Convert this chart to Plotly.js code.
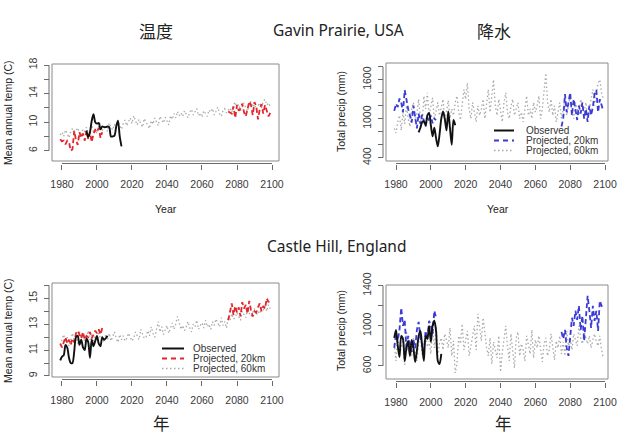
<!DOCTYPE html>
<html><head><meta charset="utf-8">
<script src="https://cdn.plot.ly/plotly-3.0.1.min.js"></script>
<style>html,body{margin:0;padding:0;background:#fff}#chart{width:617px;height:435px}</style>
</head><body><div id="chart"></div>
<script>
// ---------------- DATA ----------------
// Gavin Prairie, USA - temperature (C)
const gpTempObsStart = 1994;
const gpTempObs = [8.8,7.9,8.6,10.2,11.1,10.0,9.8,9.9,9.0,9.4,9.3,9.3,9.4,9.3,8.0,8.0,8.1,9.4,10.2,8.0,6.6];
const gpTemp20EarlyStart = 1979;
const gpTemp20Early = [7.6,7.3,7.4,6.9,7.4,7.2,6.0,6.2,8.8,7.5,6.8,8.6,7.8,8.4,7.4,8.8,7.6,8.6,7.2,8.4,8.9,8.6,9.2,7.8,8.6];
const gpTemp20LateStart = 2075;
const gpTemp20Late = [11.5,11.4,11.2,12.2,10.6,12.4,11.6,11.9,12.6,11.4,10.8,11.8,12.9,12.4,11.0,12.8,12.2,10.4,11.8,12.5,11.2,12.4,11.6,10.8,11.3];
const gpTemp60Start = 1979;
const gpTemp60 = [8.2,8.6,8.0,8.9,8.4,7.8,8.7,9.1,8.3,8.8,
  9.2,8.5,8.1,9.0,8.7,9.3,8.2,8.9,9.5,8.6,
  9.0,8.4,9.4,9.8,8.8,9.2,9.6,8.7,9.9,9.3,
  8.9,9.7,9.1,10.0,9.4,9.0,9.8,10.3,9.5,10.1,
  10.6,9.8,10.9,10.2,9.6,10.4,9.9,9.3,10.5,10.0,
  9.4,9.1,10.2,9.7,10.6,10.1,9.5,10.8,10.3,9.9,
  10.7,10.2,9.6,10.9,10.4,11.2,10.6,11.5,10.9,11.3,
  10.8,11.6,11.1,10.6,11.4,11.8,11.0,11.5,11.9,10.9,
  11.3,10.7,11.6,11.2,10.8,11.7,11.4,11.9,11.0,11.5,
  12.1,11.2,10.8,11.6,11.9,11.3,11.7,12.0,11.4,12.4,
  12.8,11.9,12.5,11.6,12.2,12.7,12.0,11.5,12.6,12.9,
  12.1,12.5,11.8,12.3,12.7,12.0,12.9,13.2,12.4,12.7,
  12.2];

// Gavin Prairie, USA - precipitation (mm)
const gpPrecObsStart = 1993;
const gpPrecObs = [790,860,950,960,900,1050,1090,900,730,860,700,575,760,1000,1110,1000,820,1110,850,600,980,900];
const gpPrec20EarlyStart = 1979;
const gpPrec20Early = [1120,1230,1180,1310,1250,1100,1440,1280,1150,1050,940,1200,1000,850,1080,920,1060,980,880,1020,960,1050,930,1000,980];
const gpPrec20LateStart = 2075;
const gpPrec20Late = [880,1000,1380,1100,1250,1400,1050,1300,1150,980,1200,1080,1250,1000,1150,950,1200,1050,1180,1380,1440,1100,1300,1200,1120];
const gpPrec60Start = 1979;
const gpPrec60 = [850,780,950,1050,820,1100,920,1200,1000,880,
  1150,1250,970,1080,1300,1020,900,1350,1150,1400,
  1050,1200,1320,980,1150,1250,1050,1180,1300,950,
  1100,1280,1000,1150,1050,1250,1350,1100,980,1200,
  1450,1300,1550,1150,1000,1250,1100,950,1200,1050,
  1150,1300,1000,1250,1450,1100,1350,1600,1200,1050,
  1300,1150,950,1250,1400,1100,1000,1200,1300,1050,
  1150,1250,1000,1100,950,1200,1350,1050,1150,1000,
  1250,1100,1200,1350,1000,1150,1450,1700,1250,1100,
  1300,1050,1200,950,1100,1250,1000,1150,1300,1050,
  1200,1350,1100,1000,1250,1150,1050,1300,1200,1100,
  1250,1000,1150,1300,1450,1200,1350,1550,1600,1400,
  1300];

// Castle Hill, England - temperature (C)
const chTempObsStart = 1979;
const chTempObs = [10.2,10.5,10.6,11.4,11.2,10.4,10.0,10.0,10.9,12.0,12.1,11.4,11.8,11.2,11.0,11.9,11.6,10.4,11.8,11.3,11.7,12.1,11.5,11.3,12.0,11.8,11.9,12.1];
const chTemp20EarlyStart = 1979;
const chTemp20Early = [11.5,11.2,11.6,12.0,11.5,11.8,11.4,11.9,11.6,12.3,12.5,12.2,11.9,12.4,11.8,12.1,12.0,12.4,11.9,12.2,12.5,12.3,12.6,12.2,12.7];
const chTemp20LateStart = 2075;
const chTemp20Late = [13.3,14.0,14.6,13.7,14.4,13.9,14.3,13.6,14.7,14.2,14.5,13.8,14.8,14.1,13.6,14.0,13.9,14.3,14.6,14.0,14.4,14.2,15.0,14.7,14.9];
const chTemp60Start = 1979;
const chTemp60 = [11.4,11.8,12.2,11.6,12.0,11.3,11.9,12.3,11.7,12.1,
  11.5,12.4,11.9,12.2,11.6,12.0,12.5,11.8,12.2,11.7,
  12.1,11.8,12.3,11.9,12.0,11.6,12.2,11.8,12.3,11.7,
  12.0,12.4,11.9,11.6,12.2,11.8,12.1,11.7,11.9,12.3,
  12.0,11.7,11.9,12.4,12.1,11.8,12.6,12.2,11.9,12.0,
  12.5,12.1,12.8,12.3,12.0,12.6,13.2,12.4,12.8,12.2,
  12.5,12.9,12.3,12.7,13.1,12.6,13.0,13.6,13.0,12.6,
  12.9,12.5,12.8,13.2,12.7,12.4,13.0,12.8,13.3,12.6,
  12.9,13.1,12.7,13.3,12.8,13.0,12.6,13.2,12.9,13.4,
  13.1,12.8,13.5,12.9,13.2,12.7,13.6,13.3,13.8,13.4,
  13.5,13.9,13.6,13.3,14.0,13.7,13.5,14.1,13.8,13.6,
  13.9,14.2,13.7,14.0,13.8,14.3,14.1,14.4,14.0,14.5,
  14.2];

// Castle Hill, England - precipitation (mm)
const chPrecObsStart = 1979;
const chPrecObs = [880,960,800,690,900,870,650,780,850,700,860,780,640,750,900,950,800,650,900,870,1000,840,1000,1050,950,650,620,720];
const chPrec20EarlyStart = 1979;
const chPrec20Early = [780,920,850,960,1180,1000,1060,760,900,820,740,860,780,960,1040,880,800,740,950,860,1050,1000,920,1150,1080];
const chPrec20LateStart = 2075;
const chPrec20Late = [940,870,960,780,700,930,1080,1000,1150,1060,1200,960,1100,850,1050,1300,1150,980,1200,1050,1150,950,1250,1200,1180];
const chPrec60Start = 1979;
const chPrec60 = [820,650,900,720,780,860,610,950,740,800,
  700,880,760,650,830,900,720,680,940,790,
  850,720,960,780,1000,700,830,880,760,920,
  860,780,980,700,850,530,620,900,820,1020,
  760,880,950,700,820,900,1000,760,1120,980,
  850,1080,920,780,700,880,620,840,760,680,
  900,540,730,860,1000,800,650,920,760,580,
  880,940,700,820,760,650,900,800,720,960,
  680,860,780,900,740,640,820,880,700,760,
  920,800,660,850,780,900,720,840,700,950,
  800,880,760,920,850,800,1000,880,820,940,
  880,820,900,780,860,920,840,800,900,760,
  680];

// Axis ticks and labels
const yearTicks = [1980,2000,2020,2040,2060,2080,2100];
const yearLabels = ['1980','2000','2020','2040','2060','2080','2100'];
const gpTempTicks = [6,8,10,12,14,16,18];
const gpTempLabels = ['6','','10','','14','','18'];
const gpPrecTicks = [400,600,800,1000,1200,1400,1600,1800];
const gpPrecLabels = ['400','','','1000','','','1600',''];
const chTempTicks = [9,10,11,12,13,14,15,16];
const chTempLabels = ['9','','11','','13','','15',''];
const chPrecTicks = [600,800,1000,1200,1400];
const chPrecLabels = ['600','','1000','','1400'];

const legendLabels = ['Observed','Projected, 20km','Projected, 60km'];
const titleTemp = '温度';
const titlePrec = '降水';
const siteTop = 'Gavin Prairie, USA';
const siteBottom = 'Castle Hill, England';
const yearTitle = 'Year';
const yearTitleZh = '年';
const yTitleTemp = 'Mean annual temp (C)';
const yTitlePrec = 'Total precip (mm)';

// ---------------- RENDER ----------------
const W = 617, H = 435;
const fx = p => p / W;
const fy = p => 1 - p / H;
const yrs = (start, arr) => arr.map((_, i) => start + i);

const C_OBS = '#111111', C_RED = '#e3262c', C_BLUE = '#3a3ad6', C_GRAY = '#a9a9a9';
const FONT = 'Liberation Sans, Arial, Helvetica, sans-serif';

function lineTrace(start, arr, ax, kind, color) {
  const t = {x: yrs(start, arr), y: arr, xaxis: ax[0], yaxis: ax[1], type: 'scatter', mode: 'lines', hoverinfo: 'skip', showlegend: false};
  if (kind === 'obs') t.line = {color: C_OBS, width: 1.9, shape: 'spline', smoothing: 0.8};
  else if (kind === 'p20') t.line = {color: color, width: 1.8, dash: '5px,3px'};
  else t.line = {color: C_GRAY, width: 1.3, dash: '1.5px,2.5px'};
  return t;
}

const panels = [
  {ax: ['x', 'y'], box: [52, 279, 64, 161], xr: [1974.3, 2104.0], yr: [4.56, 18.14], yt: gpTempTicks, yl: gpTempLabels,
   obs: [gpTempObsStart, gpTempObs], e20: [gpTemp20EarlyStart, gpTemp20Early], l20: [gpTemp20LateStart, gpTemp20Late], g60: [gpTemp60Start, gpTemp60], col: C_RED},
  {ax: ['x2', 'y2'], box: [386, 608, 63, 161], xr: [1974.26, 2101.7], yr: [349, 1857], yt: gpPrecTicks, yl: gpPrecLabels,
   obs: [gpPrecObsStart, gpPrecObs], e20: [gpPrec20EarlyStart, gpPrec20Early], l20: [gpPrec20LateStart, gpPrec20Late], g60: [gpPrec60Start, gpPrec60], col: C_BLUE},
  {ax: ['x3', 'y3'], box: [52, 279, 283, 377], xr: [1974.3, 2104.0], yr: [8.92, 16.18], yt: chTempTicks, yl: chTempLabels,
   obs: [chTempObsStart, chTempObs], e20: [chTemp20EarlyStart, chTemp20Early], l20: [chTemp20LateStart, chTemp20Late], g60: [chTemp60Start, chTemp60], col: C_RED},
  {ax: ['x4', 'y4'], box: [386, 608, 285, 379], xr: [1974.26, 2101.7], yr: [470, 1407], yt: chPrecTicks, yl: chPrecLabels,
   obs: [chPrecObsStart, chPrecObs], e20: [chPrec20EarlyStart, chPrec20Early], l20: [chPrec20LateStart, chPrec20Late], g60: [chPrec60Start, chPrec60], col: C_BLUE}
];

const data = [];
const layout = {
  width: W, height: H, margin: {l: 0, r: 0, t: 0, b: 0},
  paper_bgcolor: '#fff', plot_bgcolor: 'rgba(0,0,0,0)',
  showlegend: false, shapes: [], annotations: [],
  font: {family: FONT, color: '#333'}
};
const AX_COL = '#6a6a6a';

panels.forEach((p, i) => {
  const [l, r, t, b] = p.box;
  data.push(lineTrace(p.g60[0], p.g60[1], p.ax, 'p60'));
  data.push(lineTrace(p.e20[0], p.e20[1], p.ax, 'p20', p.col));
  data.push(lineTrace(p.l20[0], p.l20[1], p.ax, 'p20', p.col));
  data.push(lineTrace(p.obs[0], p.obs[1], p.ax, 'obs'));
  const n = i === 0 ? '' : String(i + 1);
  const xPos = fy(b + 2.5), yPos = fx(l - 3);
  layout['xaxis' + n] = {
    domain: [fx(l), fx(r)], range: p.xr, anchor: 'free', position: xPos,
    showgrid: false, zeroline: false, showline: false,
    tickmode: 'array', tickvals: yearTicks, ticktext: yearLabels,
    ticks: 'outside', ticklen: 5, tickwidth: 1, tickcolor: AX_COL,
    tickfont: {size: 10.5, color: '#3a3a3a', family: FONT}, ticklabelstandoff: 6, fixedrange: true
  };
  layout['yaxis' + n] = {
    domain: [fy(b), fy(t)], range: p.yr, anchor: 'free', position: yPos,
    showgrid: false, zeroline: false, showline: false,
    tickmode: 'array', tickvals: p.yt, ticktext: p.yl, tickangle: -90,
    ticks: 'outside', ticklen: 5, tickwidth: 1, tickcolor: AX_COL,
    tickfont: {size: 10.5, color: '#3a3a3a', family: FONT}, ticklabelstandoff: 3, fixedrange: true
  };
  layout.shapes.push({type: 'rect', xref: 'paper', yref: 'paper', x0: fx(l), x1: fx(r), y0: fy(b), y1: fy(t), line: {color: '#8a8a8a', width: 1}});
  layout.shapes.push({type: 'line', xref: p.ax[0], yref: 'paper', x0: yearTicks[0], x1: yearTicks[yearTicks.length - 1], y0: xPos, y1: xPos, line: {color: AX_COL, width: 1}});
  layout.shapes.push({type: 'line', xref: 'paper', yref: p.ax[1], x0: yPos, x1: yPos, y0: p.yt[0], y1: p.yt[p.yt.length - 1], line: {color: AX_COL, width: 1}});
});

// Legends (drawn manually, R style)
function legend(x0, x1, tx, ys, col) {
  const styles = [
    {color: C_OBS, width: 2},
    {color: col, width: 1.8, dash: '5px,4px'},
    {color: C_GRAY, width: 1.3, dash: '1.5px,2.5px'}
  ];
  ys.forEach((y, k) => {
    layout.shapes.push({type: 'line', xref: 'paper', yref: 'paper', x0: fx(x0), x1: fx(x1), y0: fy(y), y1: fy(y), line: styles[k]});
    layout.annotations.push({xref: 'paper', yref: 'paper', x: fx(tx), y: fy(y), xanchor: 'left', yanchor: 'middle', showarrow: false,
      borderpad: 0, text: legendLabels[k], font: {size: 10, color: '#333', family: FONT}});
  });
}
legend(494, 514, 525, [130.5, 140.5, 150.5], C_BLUE);
legend(162, 184, 192, [348.5, 358.5, 368.5], C_RED);

function ann(x, y, text, size, family, angle) {
  layout.annotations.push({xref: 'paper', yref: 'paper', x: fx(x), y: fy(y), xanchor: 'center', yanchor: 'middle', showarrow: false,
    borderpad: 0, text: text, textangle: angle || 0, font: {size: size, color: '#222', family: family}});
}
const CJK = 'Noto Sans CJK SC, sans-serif';
const SANS = 'Noto Sans, Open Sans, sans-serif';
ann(156, 30, titleTemp, 17, CJK);
ann(494, 30, titlePrec, 17, CJK);
ann(338, 30, siteTop, 15.5, SANS);
ann(337, 246, siteBottom, 15.5, SANS);
ann(162, 423, yearTitleZh, 16.5, CJK);
ann(503, 423, yearTitleZh, 16.5, CJK);
ann(165.5, 209, yearTitle, 10.5, FONT);
ann(498, 209, yearTitle, 10.5, FONT);
ann(8, 113, yTitleTemp, 10.5, FONT, -90);
ann(8, 331, yTitleTemp, 10.5, FONT, -90);
ann(341, 112, yTitlePrec, 10.5, FONT, -90);
ann(341, 331, yTitlePrec, 10.5, FONT, -90);

Plotly.newPlot('chart', data, layout, {staticPlot: true, displayModeBar: false});
</script>
</body></html>
